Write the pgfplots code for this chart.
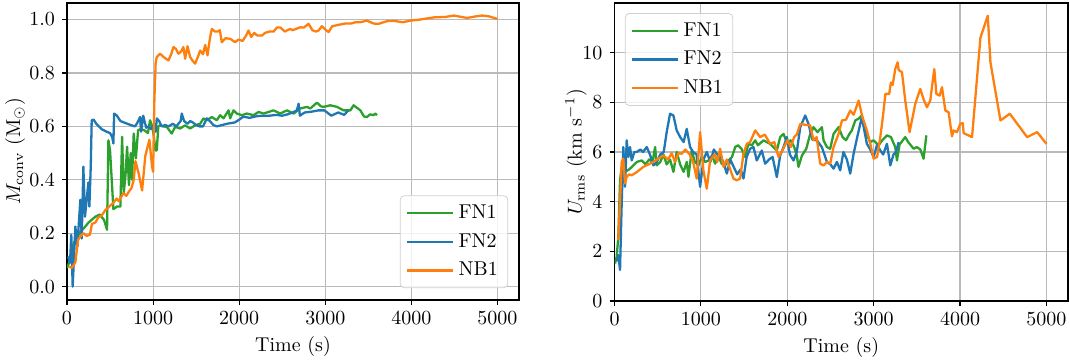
\documentclass[border=0pt]{standalone}
\usepackage{pgfplots}
\pgfplotsset{compat=1.18}
\definecolor{tabgreen}{HTML}{2CA02C}
\definecolor{tabblue}{HTML}{1F77B4}
\definecolor{taborange}{HTML}{FF7F0E}
\pgfplotsset{
  common/.style={
    scale only axis,
    xmin=0, xmax=5250,
    xtick={0,1000,2000,3000,4000,5000},
    scaled x ticks=false,
    x tick label style={/pgf/number format/1000 sep={}},
    grid=major,
    major grid style={line width=0.55pt, color=black!27},
    axis line style={line width=0.55pt},
    tick align=outside,
    tick pos=left,
    major tick length=2.5pt,
    every tick/.style={line width=0.55pt, black},
    xlabel={Time (s)},
    xlabel style={at={(axis description cs:0.5,-0.155)}, anchor=center},
    legend cell align=left,
    legend style={draw=black!18, rounded corners=2pt, fill=white, fill opacity=0.8, text opacity=1, font=\normalsize, row sep=2pt, inner xsep=3pt, inner ysep=2.5pt},
    legend image code/.code={\draw[#1] (0pt,0pt) -- (23pt,0pt);},
    every axis plot/.append style={line width=1.15pt, line join=round},
  }
}
\begin{document}
\begin{tikzpicture}
\path[use as bounding box] (-33.5pt,-31pt) rectangle (501.5pt,150pt);
\begin{axis}[common,
  at={(0pt,0pt)}, anchor=south west,
  width=226pt, height=148.5pt,
  ymin=-0.05, ymax=1.062,
  ytick={0,0.2,0.4,0.6,0.8,1.0},
  yticklabel style={/pgf/number format/.cd, fixed, fixed zerofill, precision=1},
  ylabel={$M_{\rm conv}$ (M$_\odot$)},
  ylabel style={at={(axis description cs:-0.115,0.5)}, anchor=center},
  legend style={at={(0.976,0.04)}, anchor=south east},
]
\addplot[tabgreen] coordinates {
(0,0.07)(38,0.10)(78,0.164)(110,0.18)(155,0.206)(200,0.22)(250,0.24)(330,0.262)(380,0.27)(430,0.25)(465,0.213)(481,0.548)(500,0.51)(539,0.29)(581,0.30)(620,0.30)(640,0.561)(659,0.35)(680,0.42)(698,0.524)(720,0.38)(740,0.50)(755,0.40)(775,0.573)(800,0.48)(826,0.586)(860,0.59)(900,0.585)(940,0.575)(965,0.623)(990,0.60)(1010,0.56)(1027,0.51)(1043,0.51)(1060,0.60)(1081,0.604)(1120,0.60)(1159,0.598)(1217,0.573)(1256,0.598)(1314,0.592)(1372,0.604)(1430,0.592)(1488,0.604)(1547,0.61)(1585,0.63)(1624,0.623)(1682,0.635)(1740,0.623)(1779,0.642)(1818,0.63)(1876,0.66)(1895,0.63)(1934,0.66)(1973,0.648)(2031,0.642)(2089,0.648)(2167,0.642)(2225,0.654)(2283,0.648)(2341,0.654)(2399,0.66)(2477,0.648)(2554,0.66)(2632,0.648)(2709,0.667)(2787,0.673)(2826,0.667)(2903,0.689)(2950,0.675)(2981,0.673)(3058,0.679)(3136,0.673)(3213,0.66)(3291,0.66)(3329,0.679)(3407,0.66)(3450,0.637)(3484,0.635)(3520,0.645)(3562,0.642)(3580,0.648)(3601,0.642)
};
\addlegendentry{FN1}
\addplot[tabblue] coordinates {
(12,0.113)(35,0.09)(50,0.194)(66,0.0)(80,0.10)(97,0.225)(120,0.15)(140,0.25)(155,0.325)(171,0.18)(190,0.449)(209,0.262)(230,0.33)(248,0.39)(260,0.30)(276,0.45)(287,0.623)(310,0.625)(340,0.61)(370,0.60)(400,0.59)(430,0.585)(460,0.58)(500,0.575)(525,0.56)(539,0.536)(547,0.648)(580,0.64)(620,0.62)(660,0.615)(700,0.61)(740,0.605)(790,0.60)(820,0.615)(849,0.635)(860,0.58)(885,0.64)(900,0.62)(920,0.595)(950,0.60)(975,0.59)(1000,0.60)(1030,0.58)(1043,0.63)(1070,0.62)(1100,0.60)(1140,0.605)(1180,0.60)(1230,0.61)(1270,0.60)(1320,0.62)(1333,0.648)(1360,0.62)(1400,0.61)(1430,0.62)(1460,0.615)(1500,0.605)(1540,0.60)(1580,0.60)(1624,0.63)(1660,0.62)(1700,0.605)(1740,0.60)(1800,0.605)(1860,0.61)(1900,0.612)(1950,0.615)(2000,0.625)(2040,0.635)(2070,0.635)(2120,0.632)(2200,0.638)(2280,0.64)(2350,0.64)(2430,0.643)(2500,0.64)(2560,0.645)(2620,0.652)(2670,0.66)(2690,0.685)(2705,0.64)(2760,0.652)(2840,0.655)(2920,0.66)(2990,0.66)(3070,0.64)(3150,0.652)(3220,0.643)(3267,0.66)
};
\addlegendentry{FN2}
\addplot[taborange] coordinates {
(25,0.075)(55,0.07)(97,0.09)(115,0.14)(128,0.175)(160,0.19)(190,0.20)(230,0.19)(267,0.195)(290,0.235)(330,0.24)(364,0.26)(400,0.265)(442,0.285)(490,0.30)(537,0.313)(578,0.33)(600,0.32)(655,0.35)(690,0.34)(717,0.355)(750,0.37)(775,0.40)(795,0.47)(835,0.42)(872,0.36)(910,0.49)(957,0.55)(988,0.45)(1000,0.43)(1015,0.70)(1030,0.84)(1043,0.86)(1081,0.872)(1120,0.86)(1178,0.847)(1210,0.87)(1236,0.897)(1265,0.89)(1294,0.872)(1325,0.88)(1352,0.897)(1372,0.853)(1400,0.90)(1430,0.86)(1460,0.845)(1488,0.835)(1520,0.86)(1547,0.884)(1580,0.87)(1605,0.905)(1632,0.866)(1660,0.93)(1682,0.965)(1720,0.955)(1750,0.955)(1775,0.96)(1798,0.915)(1840,0.93)(1895,0.928)(1953,0.915)(1990,0.925)(2040,0.92)(2080,0.94)(2108,0.959)(2140,0.935)(2175,0.95)(2210,0.94)(2264,0.94)(2300,0.95)(2350,0.955)(2400,0.955)(2438,0.97)(2480,0.97)(2530,0.955)(2560,0.96)(2593,0.965)(2620,0.96)(2660,0.965)(2710,0.971)(2750,0.97)(2806,0.984)(2850,0.96)(2890,0.955)(2922,0.959)(2960,0.975)(3010,0.96)(3038,0.953)(3080,0.975)(3150,0.98)(3230,0.985)(3300,0.985)(3350,0.99)(3407,0.99)(3485,0.996)(3560,0.985)(3620,0.984)(3717,0.994)(3800,0.995)(3900,0.99)(3988,0.996)(4100,1.0)(4260,1.008)(4400,1.01)(4492,1.015)(4647,1.006)(4750,1.012)(4822,1.015)(4900,1.012)(5000,1.002)
};
\addlegendentry{NB1}
\end{axis}
\begin{axis}[common,
  at={(273.75pt,-0.5pt)}, anchor=south west,
  width=226.75pt, height=149pt,
  ymin=0, ymax=12,
  ytick={0,2,4,6,8,10},
  ylabel={$U_{\rm rms}$ (km s$^{-1}$)},
  ylabel style={at={(axis description cs:-0.085,0.5)}, anchor=center},
  legend style={at={(0.023,0.966)}, anchor=north west},
]
\addplot[tabgreen] coordinates {
(6,1.51)(25,1.78)(44,2.58)(64,4.86)(83,5.4)(100,5.2)(122,5.2)(170,5.3)(218,5.46)(260,5.6)(315,5.66)(360,5.5)(400,5.7)(440,5.6)(470,6.2)(488,5.46)(530,5.6)(566,5.9)(604,5.5)(643,5.7)(682,5.2)(720,6.0)(760,5.5)(800,5.2)(836,5.6)(856,5.0)(894,6.06)(930,5.6)(972,5.46)(1010,5.8)(1050,5.6)(1090,5.66)(1130,5.86)(1165,5.53)(1200,5.86)(1240,5.53)(1280,5.46)(1320,5.66)(1360,5.8)(1397,6.2)(1430,6.27)(1470,6.13)(1510,5.8)(1551,6.33)(1590,6.27)(1628,6.47)(1660,6.27)(1725,6.47)(1800,6.33)(1879,6.06)(1918,6.6)(1957,6.73)(2000,6.33)(2040,6.47)(2080,6.2)(2110,5.86)(2130,5.4)(2170,5.86)(2220,6.13)(2266,6.73)(2304,7.0)(2350,6.8)(2401,7.0)(2420,6.47)(2459,6.2)(2497,6.13)(2536,6.73)(2594,7.0)(2640,6.6)(2680,6.47)(2720,6.73)(2748,6.87)(2787,7.27)(2825,7.34)(2864,7.47)(2900,6.87)(2960,6.4)(3000,6.47)(3057,6.27)(3100,6.47)(3154,6.67)(3200,6.6)(3250,6.2)(3270,5.66)(3300,6.3)(3366,6.6)(3400,6.4)(3463,6.13)(3500,6.2)(3540,6.1)(3578,5.73)(3610,6.67)
};
\addlegendentry{FN1}
\addplot[tabblue] coordinates {
(30,1.6)(44,1.85)(64,1.25)(80,3.5)(102,6.2)(122,4.6)(141,6.47)(160,5.8)(180,6.2)(199,5.66)(230,6.0)(257,6.0)(300,6.1)(330,6.0)(373,6.2)(410,5.9)(450,5.46)(490,5.6)(530,5.9)(570,6.0)(604,6.8)(643,7.54)(682,7.47)(720,6.87)(760,6.6)(800,6.4)(836,6.93)(875,6.2)(910,6.0)(950,5.9)(991,4.6)(1030,5.7)(1068,6.0)(1110,5.6)(1150,6.1)(1190,5.9)(1230,5.8)(1260,5.6)(1300,5.13)(1340,5.7)(1380,5.4)(1420,5.1)(1460,5.3)(1493,4.93)(1530,5.8)(1570,6.13)(1609,6.2)(1647,5.66)(1705,6.06)(1744,5.53)(1790,5.7)(1830,5.8)(1879,4.99)(1918,5.86)(1957,6.2)(1995,6.6)(2030,5.9)(2072,5.66)(2110,6.0)(2150,7.0)(2208,7.47)(2246,7.13)(2290,6.5)(2342,6.47)(2400,6.2)(2459,5.6)(2500,5.5)(2536,5.33)(2575,5.6)(2613,5.26)(2650,6.0)(2690,5.7)(2729,5.13)(2768,5.93)(2810,6.6)(2845,7.13)(2864,7.4)(2890,6.9)(2922,6.33)(2960,6.1)(3000,5.8)(3040,6.3)(3077,6.06)(3110,5.9)(3154,6.33)(3193,5.46)(3230,5.9)(3260,6.0)(3289,6.4)
};
\addlegendentry{FN2}
\addplot[taborange] coordinates {
(44,2.45)(70,4.5)(83,5.6)(102,5.73)(122,4.73)(141,5.0)(170,5.1)(199,5.06)(257,5.19)(334,5.4)(450,5.6)(566,5.86)(620,5.7)(662,5.95)(700,5.6)(740,5.95)(778,5.93)(820,6.1)(870,5.9)(910,5.6)(952,4.93)(991,6.8)(1029,5.26)(1068,4.52)(1107,5.66)(1160,5.9)(1190,5.6)(1223,6.13)(1262,5.4)(1300,5.7)(1340,5.3)(1377,4.93)(1416,4.86)(1454,4.93)(1493,5.93)(1532,6.33)(1570,6.4)(1629,6.87)(1686,6.6)(1740,6.7)(1802,6.33)(1850,6.4)(1899,5.8)(1950,6.1)(2000,6.47)(2040,6.2)(2080,6.6)(2110,6.7)(2150,7.13)(2200,7.1)(2265,7.07)(2304,6.47)(2340,6.6)(2381,5.53)(2420,5.46)(2460,5.6)(2497,5.53)(2536,6.2)(2594,6.73)(2633,7.27)(2680,7.3)(2729,7.67)(2768,7.5)(2806,7.87)(2826,8.07)(2870,7.4)(2922,6.87)(2961,6.33)(3000,5.73)(3040,5.8)(3077,6.6)(3110,7.5)(3136,8.34)(3180,8.34)(3200,8.8)(3220,8.7)(3250,9.34)(3277,9.61)(3290,9.3)(3328,9.21)(3366,8.07)(3416,6.8)(3482,7.94)(3540,8.54)(3580,8.1)(3617,7.8)(3655,8.07)(3702,9.34)(3726,8.34)(3764,8.27)(3791,8.61)(3830,7.67)(3868,7.6)(3907,6.63)(3926,6.87)(3965,6.8)(4004,7.14)(4031,7.16)(4042,6.76)(4139,6.6)(4236,10.6)(4321,11.49)(4352,9.61)(4468,7.27)(4576,7.54)(4777,6.6)(4893,6.8)(5000,6.33)
};
\addlegendentry{NB1}
\end{axis}
\end{tikzpicture}
\end{document}
